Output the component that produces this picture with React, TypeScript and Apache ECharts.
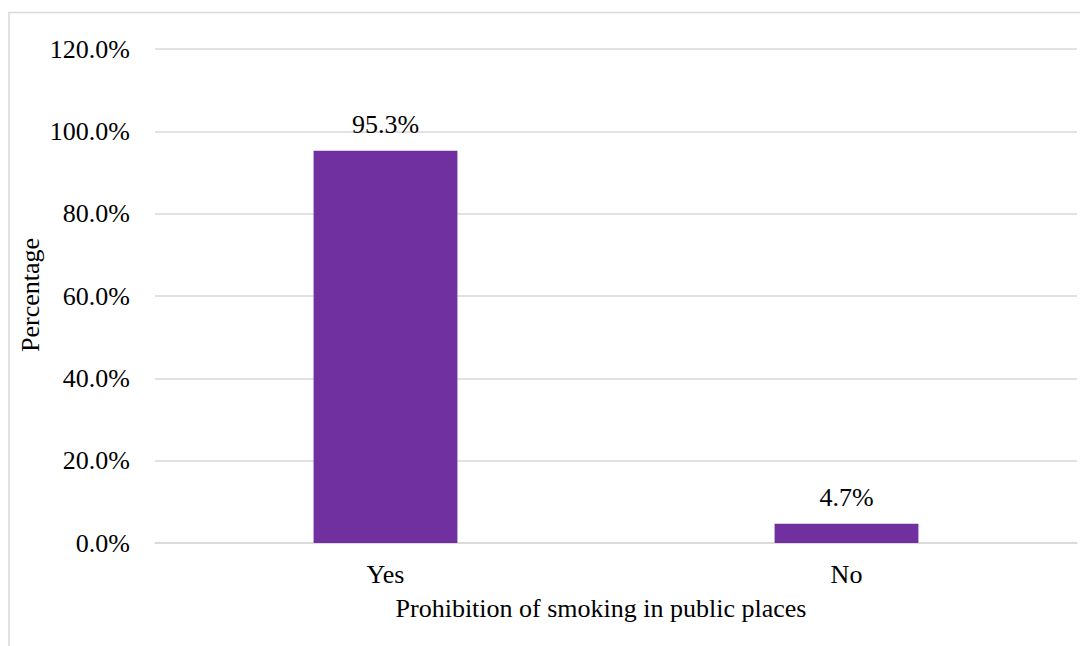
import React, { useEffect, useRef } from "react";
import * as echarts from "echarts";

const categories = ["Yes", "No"];
const values = [95.3, 4.7];
const yTicks = [0, 20, 40, 60, 80, 100, 120];
const xTitle = "Prohibition of smoking in public places";
const yTitle = "Percentage";

const FONT = "Liberation Serif";

export default function App() {
  const ref = useRef<HTMLDivElement>(null);
  useEffect(() => {
    document.body.style.margin = "0";
    const chart = echarts.init(ref.current!, null, { renderer: "svg" });
    chart.setOption({
      animation: false,
      backgroundColor: "#ffffff",
      textStyle: { fontFamily: FONT, fontSize: 26 },
      grid: { left: 155, right: 3, top: 49, bottom: 103, containLabel: false },
      graphic: [
        {
          type: "rect",
          shape: { x: 9, y: 12.5, width: 1100, height: 700 },
          style: { fill: "none", stroke: "#d9d9d9", lineWidth: 1.5 },
          silent: true,
        },
        {
          type: "text",
          x: 601,
          y: 608,
          style: {
            text: xTitle,
            fontFamily: FONT,
            fontSize: 26,
            fill: "#000000",
            align: "center",
            verticalAlign: "middle",
          },
        },
        {
          type: "text",
          x: 30,
          y: 295,
          rotation: Math.PI / 2,
          style: {
            text: yTitle,
            fontFamily: FONT,
            fontSize: 26,
            fill: "#000000",
            align: "center",
            verticalAlign: "middle",
          },
        },
      ],
      xAxis: {
        type: "category",
        data: categories,
        axisTick: { show: false },
        axisLine: { show: true, lineStyle: { color: "#d9d9d9", width: 1.5 } },
        axisLabel: { color: "#000000", fontSize: 26, fontFamily: FONT, margin: 18 },
      },
      yAxis: {
        type: "value",
        min: yTicks[0],
        max: yTicks[yTicks.length - 1],
        interval: 20,
        axisLine: { show: false },
        axisTick: { show: false },
        splitLine: { lineStyle: { color: "#d9d9d9", width: 1.5 } },
        axisLabel: {
          color: "#000000",
          fontSize: 26,
          fontFamily: FONT,
          margin: 25,
          formatter: (v: number) => v.toFixed(1) + "%",
        },
      },
      series: [
        {
          type: "bar",
          data: values,
          barWidth: "31.2%",
          itemStyle: { color: "#7030A0" },
          label: {
            show: true,
            position: "top",
            distance: 13,
            color: "#000000",
            fontSize: 26,
            fontFamily: FONT,
            formatter: (p: any) => p.value.toFixed(1) + "%",
          },
        },
      ],
    });
    return () => chart.dispose();
  }, []);
  return <div ref={ref} style={{ width: 1080, height: 646 }} />;
}
